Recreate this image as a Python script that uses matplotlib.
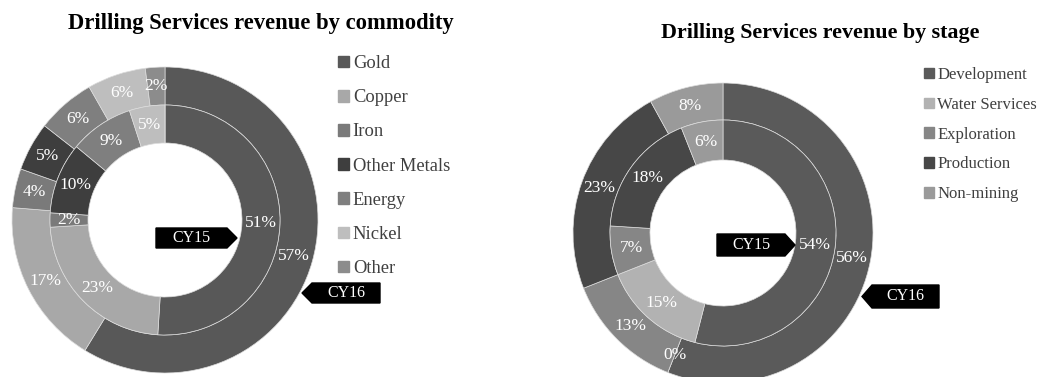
import numpy as np
import matplotlib.pyplot as plt
import matplotlib.patches as mpatches
from matplotlib.transforms import Affine2D

plt.rcParams['font.family'] = ['Liberation Serif', 'DejaVu Serif']

W, H = 1038, 377

# revenue by commodity (outer ring CY16, inner ring CY15)
commodities = ['Gold', 'Copper', 'Iron', 'Other Metals', 'Energy', 'Nickel', 'Other']
commodity_cy16 = [57, 17, 4, 5, 6, 6, 2]
commodity_cy15 = [51, 23, 2, 10, 9, 5, 0]
commodity_colors = ['#585858', '#a8a8a8', '#7a7a7a', '#3e3e3e', '#7f7f7f', '#bebebe', '#8c8c8c']

# revenue by stage
stages = ['Development', 'Water Services', 'Exploration', 'Production', 'Non-mining']
stage_cy16 = [56, 0, 13, 23, 8]
stage_cy15 = [54, 15, 7, 18, 6]
stage_colors = ['#5a5a5a', '#b2b2b2', '#868686', '#474747', '#9a9a9a']

fig = plt.figure(figsize=(W / 100, H / 100), dpi=100)
# pixel coordinates measured from the top-left corner
pix = Affine2D().scale(1 / W, -1 / H).translate(0, 1) + fig.transFigure


def donut(cx, cy, r_out, r_mid, r_in, outer, inner, colors, show_zero):
    half = 160
    ax = fig.add_axes([(cx - half) / W, 1 - (cy + half) / H, 2 * half / W, 2 * half / H])
    wp = dict(edgecolor='#dcdcdc', linewidth=0.5)
    rings = [
        (outer, r_out / half, (r_out - r_mid) / half),
        (inner, r_mid / half, (r_mid - r_in) / half),
    ]
    for vals, rad, wid in rings:
        wedges, _ = ax.pie(vals, radius=rad, colors=colors, startangle=90,
                           counterclock=False, normalize=True,
                           wedgeprops=dict(width=wid, **wp))
        r_lab = rad - wid / 2
        for w, v in zip(wedges, vals):
            if v == 0 and not show_zero:
                continue
            a = np.deg2rad((w.theta1 + w.theta2) / 2)
            ax.text(r_lab * np.cos(a), r_lab * np.sin(a), f'{v}%', color='white',
                    fontsize=12.5, ha='center', va='center')
    # pie() resets the limits, so set them afterwards
    ax.set_xlim(-1, 1)
    ax.set_ylim(-1, 1)
    ax.set_aspect('equal')
    ax.axis('off')
    return ax


def tag(text, x0, x1, y0, y1, point_right):
    mid = (y0 + y1) / 2
    if point_right:
        pts = [(x0, y0), (x1 - 10, y0), (x1, mid), (x1 - 10, y1), (x0, y1)]
        tx = (x0 + x1 - 10) / 2
    else:
        pts = [(x1, y0), (x0 + 10, y0), (x0, mid), (x0 + 10, y1), (x1, y1)]
        tx = (x0 + 10 + x1) / 2
    fig.patches.append(mpatches.Polygon(pts, closed=True, color='black', transform=pix))
    fig.text(tx, mid, text, transform=pix, color='white', fontsize=11.5,
             ha='center', va='center')


donut(165, 220, 153, 115, 77, commodity_cy16, commodity_cy15, commodity_colors, False)
donut(723, 233, 150, 113, 73, stage_cy16, stage_cy15, stage_colors, True)

fig.text(261, 24, 'Drilling Services revenue by commodity', transform=pix,
         fontsize=16.3, fontweight='bold', ha='center', va='center')
fig.text(820, 33, 'Drilling Services revenue by stage', transform=pix,
         fontsize=15.8, fontweight='bold', ha='center', va='center')

leg_kw = dict(loc='upper left', frameon=False, handlelength=0.6,
              handleheight=0.6, handletextpad=0.2, borderpad=0, borderaxespad=0,
              labelcolor='#404040')
fig.legend([mpatches.Patch(color=c) for c in commodity_colors], commodities,
           bbox_to_anchor=(338, 55), bbox_transform=pix, labelspacing=0.93,
           fontsize=13.3, **leg_kw)
fig.legend([mpatches.Patch(color=c) for c in stage_colors], stages,
           bbox_to_anchor=(924, 67), bbox_transform=pix, labelspacing=0.83,
           fontsize=12, **leg_kw)

tag('CY15', 156, 237, 228, 248, True)
tag('CY16', 302, 380, 283, 303, False)
tag('CY15', 717, 795, 234, 256, True)
tag('CY16', 862, 939, 285, 308, False)

fig.savefig('out.png', dpi=100, facecolor='white')
